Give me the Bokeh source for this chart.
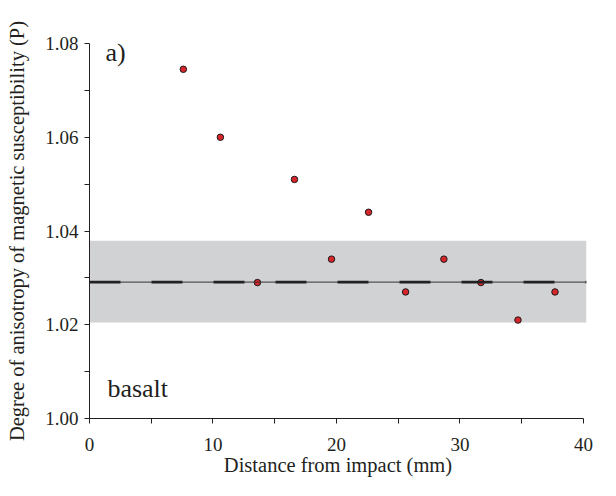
from bokeh.plotting import figure
from bokeh.models import (Range1d, FixedTicker, PrintfTickFormatter,
                          BoxAnnotation, Span, Label)
from bokeh.embed import file_html
from bokeh.resources import INLINE

# data
distance = [7.6, 10.6, 13.6, 16.6, 19.6, 22.6, 25.6, 28.7, 31.7, 34.7, 37.7]
anisotropy = [1.0745, 1.060, 1.029, 1.051, 1.034, 1.044, 1.027, 1.034, 1.029, 1.021, 1.027]

mean_p = 1.0291
band_low = 1.0205
band_high = 1.0379

x_ticks = [0, 10, 20, 30, 40]
x_minor = [5, 15, 25, 35]
y_ticks = [1.00, 1.02, 1.04, 1.06, 1.08]
y_minor = [1.01, 1.03, 1.05, 1.07]

FONT = "Liberation Serif"
INK = "#231f20"

p = figure(width=600, height=480, x_range=Range1d(0, 40.25), y_range=Range1d(1.0, 1.08),
           output_backend="svg", toolbar_location=None,
           min_border_left=89, min_border_top=43, min_border_right=14, min_border_bottom=62)
p.outline_line_color = None
p.xgrid.visible = False
p.ygrid.visible = False

# shaded range and mean line
p.add_layout(BoxAnnotation(left=0, right=40.25, bottom=band_low, top=band_high,
                           fill_color="#d1d2d4", fill_alpha=1.0, line_color=None, level="underlay"))
p.add_layout(Span(location=mean_p, dimension="width", line_color="#333333", line_width=1))
p.add_layout(Span(location=mean_p, dimension="width", line_color="#222222", line_width=2.7,
                  line_dash="31 31"))

p.scatter(distance, anisotropy, size=6.5, fill_color="#d7262b", line_color="#1a1a1a", line_width=1)

p.add_layout(Label(x=1.3, y=1.0781, text="a)", text_font=FONT, text_font_size="26px",
                   text_color=INK, text_baseline="alphabetic"))
p.add_layout(Label(x=1.45, y=1.0063, text="basalt", text_font=FONT, text_font_size="26px",
                   text_color=INK, text_baseline="alphabetic"))

# axes
p.xaxis.ticker = FixedTicker(ticks=x_ticks, minor_ticks=x_minor)
p.yaxis.ticker = FixedTicker(ticks=y_ticks, minor_ticks=y_minor)
p.yaxis.formatter = PrintfTickFormatter(format="%.2f")
p.xaxis.bounds = (0, 40)
p.yaxis.bounds = (1.0, 1.08)
p.xaxis.axis_label = "Distance from impact (mm)"
p.yaxis.axis_label = "Degree of anisotropy of magnetic susceptibility (P)"

for ax in (p.xaxis, p.yaxis):
    ax.axis_line_color = INK
    ax.axis_line_width = 1
    ax.major_tick_line_color = INK
    ax.minor_tick_line_color = INK
    ax.major_tick_in = 0
    ax.major_tick_out = 5
    ax.minor_tick_in = 0
    ax.minor_tick_out = 5
    ax.major_label_text_font = FONT
    ax.major_label_text_font_size = "19px"
    ax.major_label_text_color = INK
    ax.axis_label_text_font = FONT
    ax.axis_label_text_font_size = "20.5px"
    ax.axis_label_text_font_style = "normal"
    ax.axis_label_text_color = INK

p.xaxis.major_label_standoff = 14
p.xaxis.axis_label_standoff = 0
p.yaxis.major_label_standoff = 6
p.yaxis.axis_label_standoff = 14

open("out.html", "w").write(file_html(p, INLINE))
